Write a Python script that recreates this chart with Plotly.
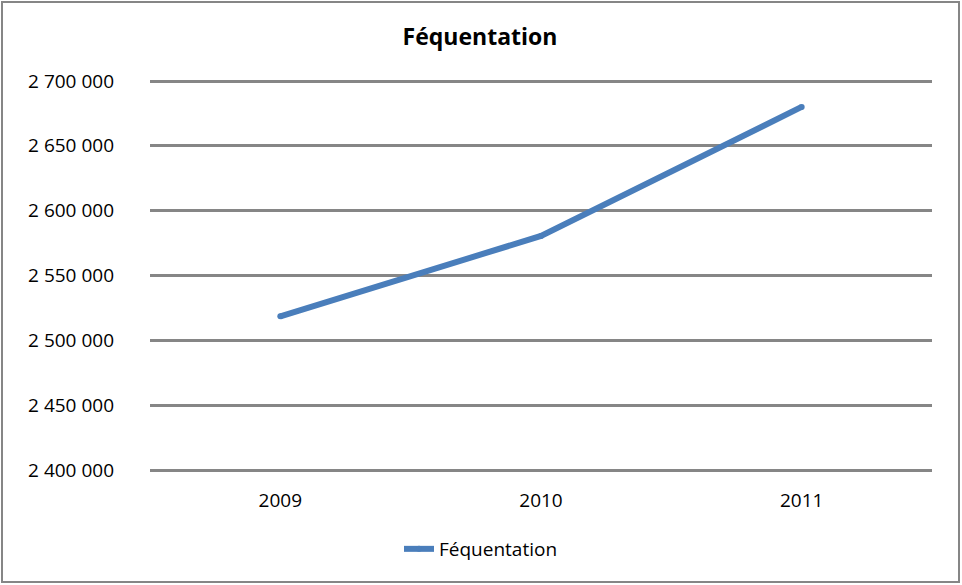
import plotly.graph_objects as go

years = ["2009", "2010", "2011"]
frequentation = [2518500, 2580500, 2680000]
y_ticks = [2400000, 2450000, 2500000, 2550000, 2600000, 2650000, 2700000]
y_tick_labels = ["2 400 000", "2 450 000", "2 500 000", "2 550 000", "2 600 000", "2 650 000", "2 700 000"]

FONT = "Open Sans, Lato, sans-serif"
LINE_COLOR = "#4A7EBB"

fig = go.Figure()
fig.add_trace(go.Scatter(
    x=years, y=frequentation, mode="lines+markers", name="Féquentation",
    line=dict(color=LINE_COLOR, width=6),
    marker=dict(color=LINE_COLOR, size=6, line=dict(width=0)),
))

W, H = 962, 585
# pixel positions of the 2 400 000 and 2 700 000 gridlines in the reference
Y_LOW_PX, Y_HIGH_PX = 470, 81
PAD = 2  # px of slack so edge gridlines are drawn
L, R = 150, 30
T = Y_HIGH_PX - PAD
B = H - (Y_LOW_PX + PAD)
pw, ph = W - L - R, H - T - B
per_px = (y_ticks[-1] - y_ticks[0]) / (Y_LOW_PX - Y_HIGH_PX)
y_range = [y_ticks[0] - PAD * per_px, y_ticks[-1] + PAD * per_px]


def px2paper_x(px):
    return (px - L) / pw


def px2paper_y(py):
    return (H - B - py) / ph


fig.update_layout(
    width=W, height=H,
    margin=dict(l=L, r=R, t=T, b=B),
    paper_bgcolor="white", plot_bgcolor="white",
    font=dict(family=FONT, size=19, color="black"),
    title=dict(text="<b>Féquentation</b>", x=480 / W, xref="container", xanchor="center",
               y=1 - 37 / H, yref="container", yanchor="middle", font=dict(size=23)),
    showlegend=True,
    legend=dict(orientation="h", x=px2paper_x(481), xanchor="center", y=px2paper_y(549),
                yanchor="middle", font=dict(size=19)),
    xaxis=dict(type="category", range=[-0.5, 2.5], showgrid=False, showline=False,
               ticks="", tickfont=dict(size=19), ticklabelstandoff=15),
    yaxis=dict(range=y_range, tickvals=y_ticks, ticktext=y_tick_labels,
               showgrid=True, gridcolor="#868686", gridwidth=2.5, zeroline=False,
               showline=False, ticks="", tickfont=dict(size=19), ticklabelstandoff=35),
    shapes=[dict(type="rect", xref="paper", yref="paper",
                 x0=px2paper_x(2), x1=px2paper_x(959), y0=px2paper_y(582), y1=px2paper_y(2),
                 line=dict(color="#868686", width=2), fillcolor="rgba(0,0,0,0)", layer="below")],
)

fig.write_html("out.html", config={"displayModeBar": False},
               post_script="document.body.style.margin='0';document.body.style.overflow='hidden';")
